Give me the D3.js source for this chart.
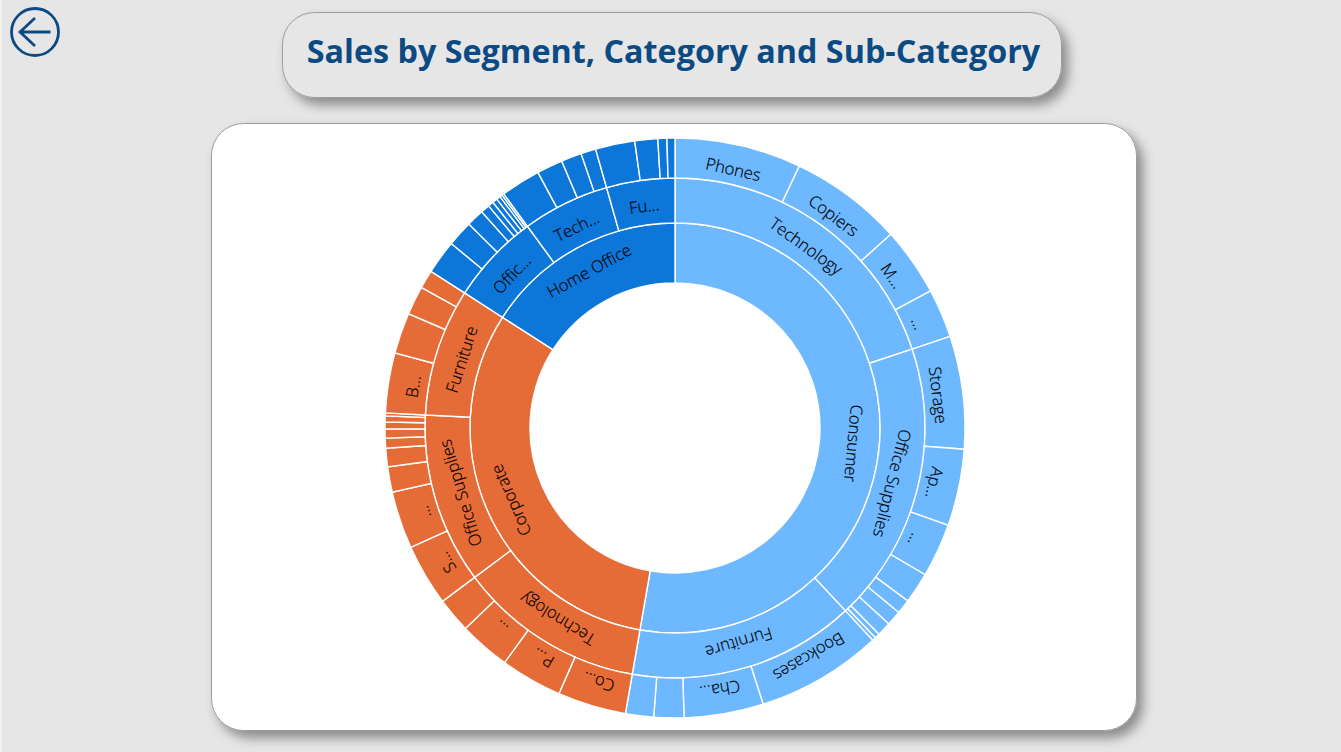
<!DOCTYPE html>
<html>
<head>
<meta charset="utf-8">
<script src="https://cdn.jsdelivr.net/npm/d3@7"></script>
<style>
  html, body { margin: 0; padding: 0; background: #e6e6e6; overflow: hidden; }
</style>
</head>
<body>
<svg id="chart" width="1341" height="752"></svg>
<script>
// sales in $K
var segments = ['Consumer', 'Corporate', 'Home Office'];
var segmentColors = ['#6db8ff', '#e66c37', '#0d77d9'];
var categoryNames = [['Technology', 'Office Supplies', 'Furniture'], ['Technology', 'Office Supplies', 'Furniture'], ['Office Supplies', 'Technology', 'Furniture']];
var categoryLabels = [['Technology', 'Office Supplies', 'Furniture'], ['Technology', 'Office Supplies', 'Furniture'], ['Offic...', 'Tech...', 'Fu...']];

var conTechNames = ['Phones', 'Copiers', 'Machines', 'Accessories'];
var conTechSales = [162.1, 144.8, 87.4, 62.5];
var conTechLabels = ['Phones', 'Copiers', 'M...', '...'];

var conOfficeNames = ['Storage', 'Appliances', 'Binders', 'Paper', 'Supplies', 'Art', 'Envelopes', 'Labels', 'Fasteners'];
var conOfficeSales = [144.2, 98.3, 68.9, 39.6, 18.5, 19.1, 17.9, 6.4, 4.5];
var conOfficeLabels = ['Storage', 'Ap...', '...', '', '', '', '', '', ''];

var conFurnNames = ['Bookcases', 'Chairs', 'Furnishings', 'Tables'];
var conFurnSales = [161.4, 101.4, 38.3, 36.0];
var conFurnLabels = ['Bookcases', 'Cha...', '', ''];

var corTechNames = ['Copiers', 'Phones', 'Accessories', 'Machines'];
var corTechSales = [87.7, 79.1, 65.7, 44.7];
var corTechLabels = ['Co...', 'P...', '...', ''];

var corOfficeNames = ['Storage', 'Appliances', 'Binders', 'Paper', 'Supplies', 'Art', 'Envelopes', 'Labels', 'Fasteners'];
var corOfficeSales = [79.1, 73.4, 32.5, 23.6, 12.8, 11.5, 8.9, 7.7, 3.8];
var corOfficeLabels = ['S...', '...', '', '', '', '', '', '', ''];

var corFurnNames = ['Bookcases', 'Chairs', 'Tables', 'Furnishings'];
var corFurnSales = [76.6, 52.3, 37.0, 23.6];
var corFurnLabels = ['B...', '', '', ''];

var homeOfficeNames = ['Storage', 'Appliances', 'Binders', 'Paper', 'Supplies', 'Art', 'Envelopes', 'Labels', 'Fasteners'];
var homeOfficeSales = [43.4, 33.2, 22.3, 11.5, 7.0, 6.4, 5.1, 3.2, 2.6];

var homeTechNames = ['Phones', 'Machines', 'Copiers', 'Accessories'];
var homeTechSales = [51.0, 33.2, 26.2, 19.1];

var homeFurnNames = ['Bookcases', 'Chairs', 'Tables', 'Furnishings'];
var homeFurnSales = [50.4, 29.3, 11.5, 10.2];

var ringRadii = [145, 205, 250, 290];
var labelRadii = [179, 224, 265];

var main = () => {
  var svg = d3.select('#chart');
  var defs = svg.append('defs');
  var shadow = defs.append('filter').attr('id', 'shadow')
    .attr('x', '-5%').attr('y', '-10%').attr('width', '112%').attr('height', '130%');
  shadow.append('feDropShadow').attr('dx', 6).attr('dy', 7).attr('stdDeviation', 6)
    .attr('flood-color', '#000').attr('flood-opacity', 0.4);

  // light strip down the left edge of the page
  svg.append('rect').attr('x', 0).attr('y', 0).attr('width', 1.5).attr('height', 752).style('fill', '#f4f4f4');

  drawBackButton(svg);

  // title card
  svg.append('rect').attr('x', 282.5).attr('y', 12.5).attr('width', 779).attr('height', 85).attr('rx', 32)
    .style('fill', '#e6e6e6').style('stroke', '#9c9c9c').style('filter', 'url(#shadow)');
  svg.append('text').attr('x', 673.5).attr('y', 63).attr('text-anchor', 'middle')
    .style('font-family', '"Open Sans"').style('font-weight', 700).style('font-size', '32.3px').style('fill', '#0b4a82')
    .text('Sales by Segment, Category and Sub-Category');

  // chart card
  svg.append('rect').attr('x', 211.5).attr('y', 123.5).attr('width', 925).attr('height', 607).attr('rx', 32)
    .style('fill', '#fff').style('stroke', '#9c9c9c').style('filter', 'url(#shadow)');

  drawSunburst(svg);
};

var drawBackButton = (svg) => {
  var g = svg.append('g').attr('transform', 'translate(35, 32)')
    .style('fill', 'none').style('stroke', '#0b4a82').style('stroke-width', 2.8);
  g.append('circle').attr('r', 23.5);
  g.append('path').attr('d', 'M15.5 0H-15M0 -14L-15 0L0 14');
};

var group = (name, names, sales, labels) => ({
  name: name,
  children: names.map((n, i) => ({ name: n, value: sales[i], label: labels ? labels[i] : '' }))
});

var buildTree = () => {
  var leaves = [
    [group(categoryNames[0][0], conTechNames, conTechSales, conTechLabels),
     group(categoryNames[0][1], conOfficeNames, conOfficeSales, conOfficeLabels),
     group(categoryNames[0][2], conFurnNames, conFurnSales, conFurnLabels)],
    [group(categoryNames[1][0], corTechNames, corTechSales, corTechLabels),
     group(categoryNames[1][1], corOfficeNames, corOfficeSales, corOfficeLabels),
     group(categoryNames[1][2], corFurnNames, corFurnSales, corFurnLabels)],
    [group(categoryNames[2][0], homeOfficeNames, homeOfficeSales),
     group(categoryNames[2][1], homeTechNames, homeTechSales),
     group(categoryNames[2][2], homeFurnNames, homeFurnSales)]
  ];
  return {
    name: 'Sales',
    children: segments.map((s, i) => {
      leaves[i].forEach((c, j) => { c.label = categoryLabels[i][j]; });
      return { name: s, label: s, color: segmentColors[i], children: leaves[i] };
    })
  };
};

var drawSunburst = (svg) => {
  var root = d3.hierarchy(buildTree()).sum((d) => d.value || 0);
  d3.partition().size([2 * Math.PI, 1])(root);

  var nodes = root.descendants().filter((d) => d.depth > 0);
  var arc = d3.arc()
    .startAngle((d) => d.x0).endAngle((d) => d.x1)
    .innerRadius((d) => ringRadii[d.depth - 1]).outerRadius((d) => ringRadii[d.depth]);

  var chart = svg.append('g').attr('transform', 'translate(675, 428)');

  chart.selectAll('path').data(nodes).enter().append('path')
    .attr('d', arc)
    .style('fill', (d) => d.ancestors().find((a) => a.depth === 1).data.color)
    .style('stroke', '#fff').style('stroke-width', 1.4);

  chart.selectAll('text').data(nodes.filter((d) => d.data.label)).enter().append('text')
    .attr('transform', (d) => {
      var deg = (d.x0 + d.x1) / 2 * 180 / Math.PI;
      return 'rotate(' + deg + ') translate(0, ' + (-labelRadii[d.depth - 1]) + ')';
    })
    .attr('text-anchor', 'middle').attr('dy', '0.35em')
    .style('font-family', '"Open Sans"').style('font-weight', 300).style('font-size', '16.6px').style('fill', '#000')
    .style('stroke', '#000').style('stroke-width', 0.2)
    .text((d) => d.data.label);
};

main();
</script>
</body>
</html>
